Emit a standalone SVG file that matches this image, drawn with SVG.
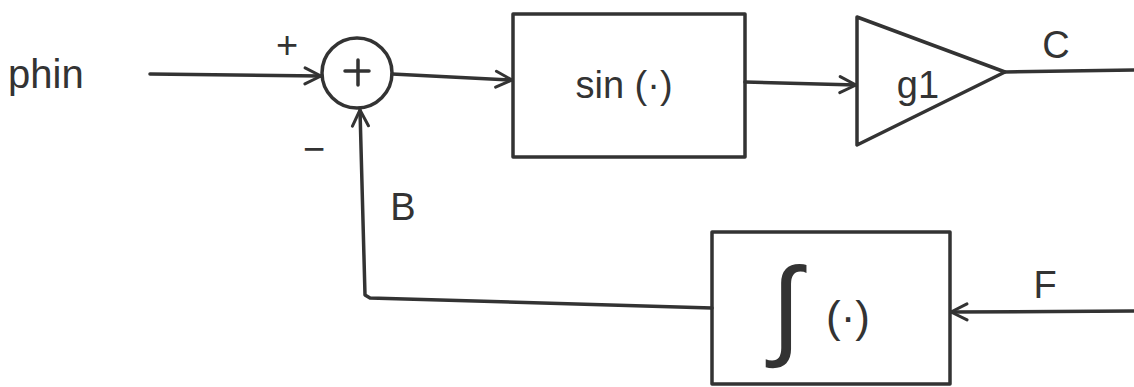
<svg xmlns="http://www.w3.org/2000/svg" width="1134" height="387" viewBox="0 0 1134 387">
<defs>
<marker id="arr" viewBox="0 0 20 20" refX="18" refY="10" markerWidth="20" markerHeight="20" markerUnits="userSpaceOnUse" orient="auto">
<path d="M2,2 L18,10 L2,18" fill="none" stroke="#333" stroke-width="3" stroke-linecap="round" stroke-linejoin="round"/>
</marker>
</defs>
<style>
.s{fill:none;stroke:#333;stroke-width:3.5;stroke-linecap:round;stroke-linejoin:round}
.t{font-family:"Liberation Sans",Arial,sans-serif;fill:#333}
</style>
<rect width="1134" height="387" fill="#fff"/>
<g id="phin"><text class="t" x="8" y="88" font-size="40">phin</text></g>
<g id="sum">
<circle class="s" cx="357" cy="73" r="35"/>
<path class="s" d="M345,71 H369 M358,60 V85"/>
<text class="t" x="287" y="58" font-size="38" text-anchor="middle">+</text>
<text class="t" x="314" y="162" font-size="38" text-anchor="middle">−</text>
</g>
<g id="sin">
<rect class="s" x="513" y="14" width="232" height="143"/>
<text class="t" x="624" y="98" font-size="38" text-anchor="middle">sin (·)</text>
</g>
<g id="g1">
<path class="s" d="M857,17 L1005,72 L857,145 Z"/>
<text class="t" x="918" y="98" font-size="38" text-anchor="middle">g1</text>
</g>
<g id="integ">
<rect class="s" x="712" y="232" width="238" height="152"/>
<text class="t" x="786" y="345" font-size="110" text-anchor="middle">∫</text>
<text class="t" x="848" y="332" font-size="44" text-anchor="middle">(·)</text>
</g>
<g id="connectors">
<path class="s" d="M150,74 L321,76" marker-end="url(#arr)"/>
<path class="s" d="M392,74 L512,80" marker-end="url(#arr)"/>
<path class="s" d="M745,82 L856,85" marker-end="url(#arr)"/>
<path class="s" d="M1005,72 L1134,70"/>
<path class="s" d="M1134,311 L951,312" marker-end="url(#arr)"/>
<path class="s" d="M712,308 L370,298 L365,295 L360,110" marker-end="url(#arr)"/>
<text class="t" x="1056" y="58" font-size="38" text-anchor="middle">C</text>
<text class="t" x="1045" y="298" font-size="38" text-anchor="middle">F</text>
<text class="t" x="403" y="220" font-size="38" text-anchor="middle">B</text>
</g>
</svg>
